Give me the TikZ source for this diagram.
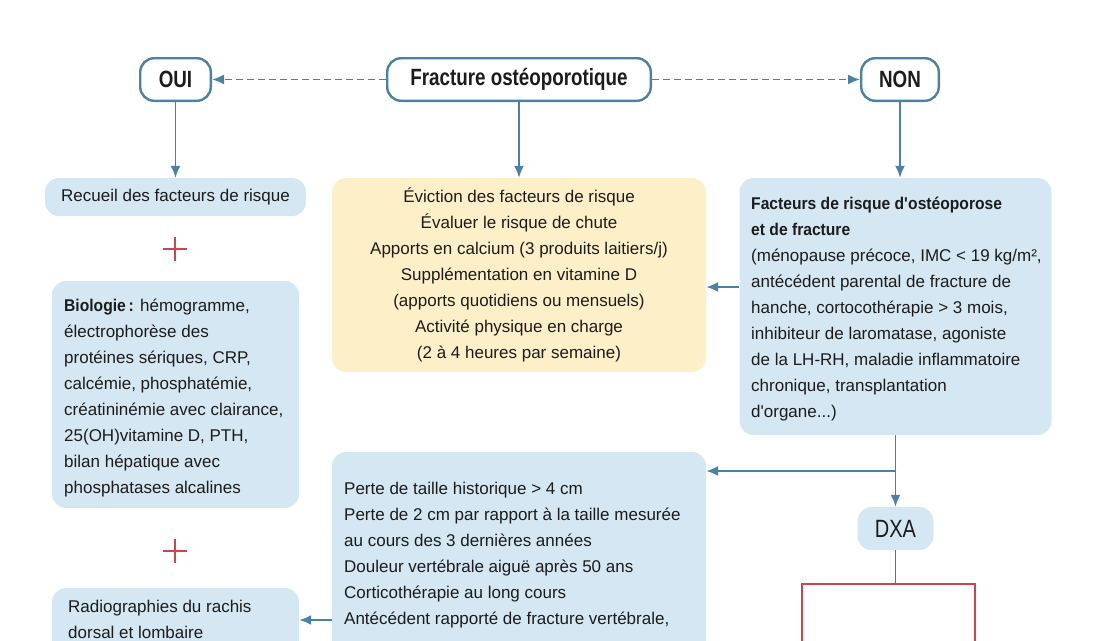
\documentclass[tikz,border=0pt]{standalone}
\usepackage{fontspec}
\setmainfont{Liberation Sans}[BoldFeatures={FakeStretch=0.92}]
\newfontfamily\headfont{Liberation Sans}[FakeStretch=0.8]
\usetikzlibrary{arrows.meta}
\definecolor{linkblue}{HTML}{4A82A6}
\definecolor{boxblue}{HTML}{D5E7F2}
\definecolor{boxyellow}{HTML}{FDF0C9}
\definecolor{plusred}{HTML}{D0434C}
\definecolor{inkgrey}{HTML}{1C1C1C}

\begin{document}
\begin{tikzpicture}[x=1pt, y=-1pt,
    question/.style={draw=linkblue, line width=2.4pt, rounded corners=14pt, fill=white,
        text=inkgrey, font=\headfont\bfseries\fontsize{23.5}{26}\selectfont,
        minimum height=42.6pt, inner sep=0pt},
    bluebox/.style={fill=boxblue, rounded corners=14pt, inner sep=0pt, text=inkgrey,
        font=\fontsize{17}{26}\selectfont},
    yellowbox/.style={bluebox, fill=boxyellow, align=center},
    txt/.style={align=left, inner sep=0pt, anchor=north west, text=inkgrey,
        font=\fontsize{17}{26}\selectfont},
    arr/.style={draw=linkblue, line width=1.9pt, -{Latex[length=12pt, width=10pt]}},
    dasharr/.style={arr, dash pattern=on 7pt off 4pt},
    plussign/.style={draw=plusred, line width=2pt},
    redline/.style={draw=plusred, line width=1.8pt}]
            \useasboundingbox (0,0) rectangle (1100,640);
            \clip (0,0) rectangle (1100,640);

            % The three questions
            \node[question, minimum width=70.6pt] (oui) at (175.5,79.5) {OUI};
            \node[question, minimum width=263.6pt] (fracture) at (519,79.5) {Fracture ostéoporotique};
            \node[question, minimum width=77.6pt] (non) at (900,79.5) {NON};

            % Left column
            \node[bluebox, minimum width=261pt, minimum height=38pt] (recueil) at (175.5,197) {Recueil des facteurs de risque};
            \node[bluebox, minimum width=247pt, minimum height=227pt] (biologie) at (175.5,394.5) {};
            \node[txt] (biologietxt) at (64,298.6) {\textbf{Biologie\,:} hémogramme,\\
                électrophorèse des\\ protéines sériques, CRP,\\ calcémie, phosphatémie,\\
                créatininémie avec clairance,\\ 25(OH)vitamine D, PTH,\\
                bilan hépatique avec\\ phosphatases alcalines};
            \node[bluebox, minimum width=247pt, minimum height=120pt] (radio) at (175.5,648) {};
            \node[txt] (radiotxt) at (68,599.6) {Radiographies du rachis\\ dorsal et lombaire};

            % Middle column
            \node[yellowbox, minimum width=374pt, minimum height=194pt] (conseils) at (519,275) {Éviction des facteurs de risque\\
                Évaluer le risque de chute\\ Apports en calcium (3 produits laitiers/j)\\
                Supplémentation en vitamine D\\ (apports quotidiens ou mensuels)\\
                Activité physique en charge\\ (2 à 4 heures par semaine)};
            \node[bluebox, minimum width=374pt, minimum height=260pt] (perte) at (519,582) {};
            \node[txt] (pertetxt) at (344,481.6) {Perte de taille historique > 4 cm\\
                Perte de 2 cm par rapport à la taille mesurée\\ au cours des 3 dernières années\\
                Douleur vertébrale aiguë après 50 ans\\ Corticothérapie au long cours\\
                Antécédent rapporté de fracture vertébrale,};

            % Right column
            \node[bluebox, minimum width=312pt, minimum height=257pt] (facteurs) at (895.5,306.5) {};
            \node[txt] (facteurstxt) at (751,196.6) {\textbf{Facteurs de risque d\textquotesingle ostéoporose}\\
                \textbf{et de fracture}\\ (ménopause précoce, IMC < 19 kg/m²,\\
                antécédent parental de fracture de\\ hanche, cortocothérapie > 3 mois,\\
                inhibiteur de laromatase, agoniste\\ de la LH-RH, maladie inflammatoire\\
                chronique, transplantation\\ d\textquotesingle organe...)};
            \node[bluebox, minimum width=76pt, minimum height=43pt, font=\headfont\fontsize{25}{26}\selectfont] (dxa) at (895.5,528.5) {DXA};

            % The plus signs
            \draw[plussign] (175,237) -- (175,261) (163,249) -- (187,249);
            \draw[plussign] (175,539) -- (175,563) (163,551) -- (187,551);

            % The arrows!
            \draw[dasharr] (fracture) -- (oui);
            \draw[dasharr] (fracture) -- (non);
            \draw[arr] (oui) -- (recueil);
            \draw[arr] (fracture) -- (conseils);
            \draw[arr] (non.south) -- (non.south |- facteurs.north);
            \draw[arr] (facteurs.west |- 0,287) -- (conseils.east |- 0,287);
            \draw[arr] (facteurs) -- (dxa);
            \coordinate (split) at (facteurs.south |- 0,471);
            \draw[arr] (split) -- (perte.east |- split);
            \draw[arr] (perte.west |- 0,620) -- (radio.east |- 0,620);

            % Below the DXA
            \coordinate (fork) at (dxa.south |- 0,584);
            \draw[redline] (dxa) -- (fork);
            \draw[redline] (802,660) -- (802,584) -- (975,584) -- (975,660);
        \end{tikzpicture}
\end{document}
